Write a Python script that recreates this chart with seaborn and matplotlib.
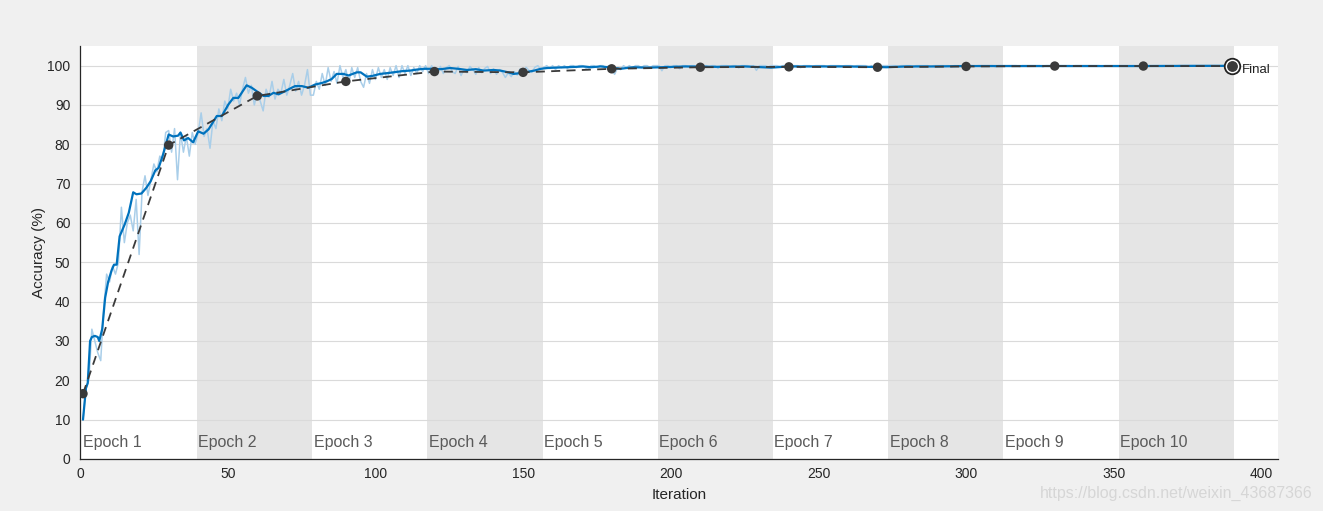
import numpy as np
import pandas as pd
import matplotlib

matplotlib.use("Agg")
import matplotlib.pyplot as plt
import seaborn as sns

# raw training accuracy, one value per iteration (1..390)
raw_acc = [
    # epoch 1
    10, 18, 20, 33, 30, 27, 25, 38, 47, 45, 49, 47, 50,
    64, 55, 60, 62, 58, 66, 52, 68, 72, 67, 71, 75, 73,
    77, 76, 83, 83.5, 78, 84, 71, 83, 78, 82, 77, 83, 80,
    # epoch 2
    83, 88, 82, 84, 79, 86, 84, 89, 86, 91, 89, 94, 91,
    93, 90, 94, 97, 93, 95, 90, 93, 91, 88.5, 94, 92, 96,
    91.5, 94, 93, 96.5, 92.5, 95, 98, 93.5, 96, 92.5, 95, 99, 92.5,
    # epoch 3
    92.5, 96, 94, 98, 95, 99.5, 96, 98.5, 95.5, 100, 97, 99, 95.5,
    99.5, 97, 99.5, 96, 94.5, 98, 95.5, 99, 96.5, 99.5, 97, 99, 96.5,
    99.5, 97.5, 100, 97, 100, 98, 100, 97.5, 99.5, 98, 100, 98.5, 100,
    # epoch 4
    98, 100, 99, 97.8, 99.8, 98, 99.5, 100, 98.5, 98, 99.8, 97.5, 99,
    98.2, 99.8, 99, 97.8, 99.5, 98.2, 99.3, 99.8, 98, 99.2, 97.8, 99, 98.3,
    97, 98.2, 97.2, 98.5, 97.6, 99.2, 98.3, 99.6, 98.8, 98.3, 99.6, 100, 99,
    # epoch 5
    99.5, 100, 99.3, 100, 99, 100, 99.5, 100, 99.3, 100, 100, 99.5, 100,
    100, 99.5, 99, 100, 100, 99.5, 100, 100, 99.5, 100, 98.8, 97.8, 99.5,
    99, 100, 99.5, 100, 99.3, 100, 100, 99.5, 100, 100, 99.5, 100, 100,
    # epoch 6
    100, 98.7, 100, 100, 99.5, 100, 100, 99.2, 100, 100, 99.8, 100, 100,
    99.6, 100, 100, 100, 99.7, 100, 100, 99.3, 100, 100, 100, 99.8, 100,
    100, 99.4, 100, 100, 100, 99.8, 100, 98.8, 100, 100, 100, 99.7, 100,
    # epoch 7
    100, 100, 99.8, 100, 100, 99.2, 100, 100, 100, 99.5, 100, 100, 100,
    99.8, 100, 100, 100, 100, 99.7, 100, 100, 100, 100, 99.9, 100, 100,
    100, 99.8, 100, 100, 100, 100, 99.6, 100, 99.4, 98.8, 100, 100, 100,
    # epoch 8
    100, 100, 100, 99.8, 100, 100, 100, 100, 99.6, 100, 100, 100, 100,
    100, 99.8, 100, 100, 100, 100, 100, 100, 99.7, 100, 100, 100, 100,
    100, 100, 100, 99.8, 100, 100, 100, 100, 100, 100, 99.7, 100, 100,
    # epoch 9
    100, 100, 100, 100, 100, 99.8, 100, 100, 100, 100, 100, 100, 100,
    99.7, 100, 100, 100, 100, 100, 100, 100, 100, 100, 99.9, 100, 100,
    100, 100, 100, 100, 100, 100, 100, 99.8, 100, 100, 100, 100, 100,
    # epoch 10
    100, 100, 100, 100, 100, 100, 99.8, 100, 100, 100, 100, 100, 100,
    100, 100, 100, 100, 100, 100, 99.9, 100, 100, 100, 100, 100, 100,
    100, 100, 100, 100, 100, 100, 100, 100, 100, 100, 100, 100, 100,
]
raw_iter = list(range(1, len(raw_acc) + 1))

# smoothed training accuracy
smooth_iter = [
    1, 2, 2.6, 3.4, 4, 5, 6, 6.5, 7.5, 8.5, 9.5, 10.7, 11.5, 12.4, 13.4,
    15.1, 16.5, 18, 19.1, 20.8, 22.5, 23.9, 25.5, 26.6, 28.1, 28.9, 30,
    31.5, 33.2, 34, 35.2, 36.6, 38.3, 40, 41.8, 43.5, 46.3, 48, 50.2, 51.9,
    53.6, 56.4, 58.1, 59.8, 62.1, 63.8, 65.5, 67.2, 69.4, 71.7, 72.8, 75.1,
    77.3, 79.6, 81.9, 83.5, 85.2, 86.9, 89.2, 90.9, 93.7, 95, 97.1, 99,
    101.6, 104, 106.1, 109, 111.8, 114, 116.3, 119.7, 122, 125.3, 128, 131,
    134, 136.6, 140, 142.3, 145, 146.8, 150, 153.8, 156, 158.1, 161, 164.9,
    168, 170.5, 173, 176.2, 180, 183, 185, 187.4, 192, 197, 205, 215, 225,
    234, 240, 250, 260, 273, 280, 290, 300, 320, 340, 360, 380, 390,
]
smooth_acc = [
    10, 18, 19.3, 30, 31, 31.3, 31, 30, 33, 41, 45, 48, 49.4, 49.4, 56.6,
    59.6, 62.6, 67.8, 67.3, 67.5, 69, 70.6, 73.4, 74, 77.4, 79.5, 82.5,
    82, 82.2, 83, 81, 81.6, 80.5, 83.3, 82.7, 83.8, 87.2, 87.2, 90.1, 91.8,
    91.8, 95, 94.4, 93.5, 92.3, 92.3, 93.1, 92.7, 93.5, 94.4, 94.8, 94.8,
    94.4, 95.2, 95.6, 96, 96.6, 97.9, 97.9, 97.5, 98.3, 98.3, 97.2, 97.4,
    97.9, 98.1, 98.3, 98.6, 98.75, 99, 99.2, 99.2, 99.1, 99.4, 99.2, 98.9,
    99.1, 98.75, 98.9, 98.75, 98.3, 97.9, 98.2, 98.75, 99.2, 99.4, 99.5, 99.6,
    99.7, 99.8, 99.6, 99.8, 99.5, 99.2, 99.4, 99.6, 99.5, 99.6, 99.8, 99.7, 99.8,
    99.5, 99.8, 99.8, 99.8, 99.6, 99.8, 99.8, 99.9, 99.9, 99.9, 99.9, 99.95, 99.95,
]

# validation accuracy
val_iter = [1, 30, 60, 90, 120, 150, 180, 210, 240, 270, 300, 330, 360, 390]
val_acc = [16.6, 79.8, 92.3, 96.0, 98.5, 98.3, 99.2, 99.6, 99.7, 99.6, 99.8, 99.9, 99.9, 99.9]

epoch_len = 39
n_epochs = 10

raw_df = pd.DataFrame({"Iteration": raw_iter, "Accuracy": raw_acc})
smooth_df = pd.DataFrame({"Iteration": smooth_iter, "Accuracy": smooth_acc})
val_df = pd.DataFrame({"Iteration": val_iter, "Accuracy": val_acc})

sns.set_style("white")
plt.rcParams["font.family"] = ["Liberation Sans", "DejaVu Sans"]

fig = plt.figure(figsize=(13.23, 5.11), dpi=100, facecolor="#F0F0F0")
ax = fig.add_axes([0.0605, 0.1018, 0.9055, 0.8082])
ax.set_facecolor("white")

# epoch shading + labels
for k in range(n_epochs):
    x0 = k * epoch_len + 0.6
    if k % 2 == 1:
        ax.axvspan(x0, x0 + epoch_len, color="#E5E5E5", lw=0, zorder=0)
    ax.text(x0 + 0.5, 4.3, f"Epoch {k + 1}", fontsize=11.5, color="#5A5A5A",
            ha="left", va="center", zorder=1)

ax.grid(True, axis="y", color="#DADADA", lw=0.8, zorder=0.5)
ax.set_axisbelow(True)

sns.lineplot(data=raw_df, x="Iteration", y="Accuracy", ax=ax, color="#A9CEE9",
             lw=1.1, estimator=None, zorder=2)
sns.lineplot(data=smooth_df, x="Iteration", y="Accuracy", ax=ax, color="#0072BD",
             lw=1.6, estimator=None, zorder=3)
sns.lineplot(data=val_df, x="Iteration", y="Accuracy", ax=ax, color="#3A3A3A",
             lw=1.3, estimator=None, zorder=4)
ax.lines[-1].set_dashes([5, 3.5])
sns.scatterplot(data=val_df, x="Iteration", y="Accuracy", ax=ax, color="#3A3A3A",
                s=46, edgecolor="none", zorder=5)

# final marker
ax.scatter([val_iter[-1]], [val_acc[-1]], s=125, facecolor="white",
           edgecolor="#222222", lw=1.3, zorder=6)
ax.scatter([val_iter[-1]], [val_acc[-1]], s=46, color="#3A3A3A", zorder=7)
ax.text(val_iter[-1] + 3.3, 99.0, "Final", fontsize=9.5, color="#222222",
        ha="left", va="center", zorder=7)

ax.set_xlim(0, 390 * 1.04)
ax.set_ylim(0, 105)
ax.set_xticks(np.arange(0, 401, 50))
ax.set_yticks(np.arange(0, 101, 10))
ax.tick_params(direction="in", length=8, width=0.8, color="#262626",
               labelcolor="#262626", labelsize=10, pad=6)
ax.tick_params(axis="y", pad=7)
ax.set_xlabel("Iteration", fontsize=11, color="#262626", labelpad=5)
ax.set_ylabel("Accuracy (%)", fontsize=11, color="#262626", labelpad=1)

for side in ["top", "right"]:
    ax.spines[side].set_visible(False)
for side in ["left", "bottom"]:
    ax.spines[side].set_color("#262626")
    ax.spines[side].set_linewidth(0.9)

fig.text(0.992, 0.035, "https://blog.csdn.net/weixin_43687366", fontsize=11.5,
         color="#D6D6D6", ha="right", va="center")

fig.savefig("out.png", dpi=100, facecolor=fig.get_facecolor())
